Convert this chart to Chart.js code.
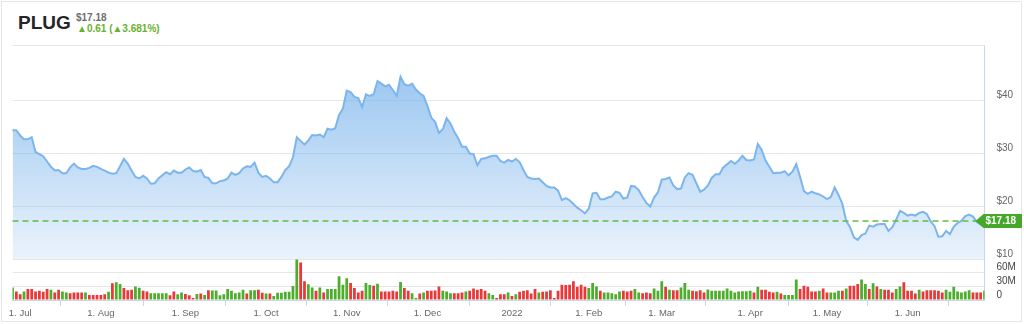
<!DOCTYPE html>
<html lang="en">
<head>
  <meta charset="UTF-8">
  <title>PLUG</title>
  <script src="https://cdn.jsdelivr.net/npm/chart.js"></script>
  <style>
    body {
      margin: 0;
      width: 1024px;
      height: 324px;
      background: #fff;
      font-family: "Liberation Sans", Arial, sans-serif;
      position: relative;
      overflow: hidden;
    }
    .frame {
      position: absolute;
      left: 1px;
      top: 1px;
      width: 1021px;
      height: 321px;
      border: 1px solid #e6e6e6;
      box-sizing: border-box;
    }
    .sym {
      position: absolute;
      left: 18px;
      top: 12.5px;
      font-size: 19px;
      line-height: 19px;
      font-weight: bold;
      color: #262626;
    }
    .last {
      position: absolute;
      left: 76px;
      top: 13px;
      font-size: 10px;
      line-height: 10px;
      font-weight: bold;
      color: #6e6e6e;
    }
    .chg {
      position: absolute;
      left: 77px;
      top: 23.5px;
      font-size: 10px;
      line-height: 10px;
      font-weight: bold;
      color: #68b22f;
    }
    canvas {
      position: absolute;
      left: 0;
      top: 0;
    }
  </style>
</head>
<body>
  <div class="frame"></div>
  <div class="sym">PLUG</div>
  <div class="last">$17.18</div>
  <div class="chg">▲0.61 (▲3.681%)</div>
  <canvas id="stock" width="1024" height="324"></canvas>

  <script>
    // month tick labels and trading days per month (Jul 2021 - Jun 2022)
    const monthLabels = ['1. Jul', '1. Aug', '1. Sep', '1. Oct', '1. Nov', '1. Dec', '2022', '1. Feb', '1. Mar', '1. Apr', '1. May', '1. Jun'];
    const tradingDays = [21, 22, 21, 21, 21, 22, 20, 19, 23, 20, 21, 21];
    const leadDays = 2; // last two sessions of June 2021

    // daily close, USD
    const closes = [
      34.3, 34.3, 33.3, 32.6, 32.6, 33.0, 30.2, 29.8, 29.4, 28.4,
      27.4, 26.7, 26.8, 26.2, 26.2, 27.3, 28.0, 27.3, 27.0, 27.0,
      27.2, 27.6, 27.4, 27.0, 26.7, 26.3, 26.1, 26.2, 27.5, 28.9,
      28.0, 26.7, 25.5, 25.2, 25.7, 25.2, 24.2, 24.3, 25.2, 25.8,
      26.4, 26.0, 26.7, 26.3, 26.3, 26.9, 27.3, 26.6, 26.5, 26.8,
      25.5, 25.3, 24.3, 24.3, 24.7, 24.8, 25.2, 26.3, 25.9, 26.2,
      27.1, 27.5, 27.4, 28.2, 26.3, 25.5, 25.7, 25.2, 24.5, 24.5,
      25.5, 26.8, 27.5, 29.2, 33.0, 32.3, 31.6, 32.4, 33.4, 33.3,
      33.5, 33.0, 34.6, 34.4, 34.7, 37.2, 38.4, 41.8, 41.5, 40.6,
      40.4, 38.7, 41.1, 40.8, 41.1, 43.6, 43.1, 42.6, 42.9, 41.9,
      40.8, 44.4, 43.0, 42.7, 43.1, 42.0, 41.3, 40.8, 38.9, 36.7,
      35.9, 33.8, 34.5, 36.6, 35.6, 34.0, 32.8, 31.2, 31.2, 29.9,
      29.8, 27.7, 28.9, 29.0, 29.3, 29.5, 29.5, 28.5, 28.2, 28.7,
      28.4, 28.9, 28.3, 26.8, 25.5, 25.2, 25.1, 25.2, 24.5, 23.8,
      23.5, 23.5, 22.9, 21.1, 21.5, 21.1, 20.4, 19.7, 19.2, 18.6,
      19.5, 22.4, 22.5, 21.3, 21.3, 21.6, 21.8, 22.7, 22.5, 21.4,
      21.6, 23.8, 23.7, 23.0, 21.7, 20.6, 19.9, 21.6, 22.6, 25.0,
      25.1, 25.4, 23.9, 23.2, 23.3, 25.4, 26.2, 25.9, 24.3, 22.7,
      23.1, 23.9, 25.3, 26.0, 26.0, 27.3, 27.9, 28.5, 28.0, 28.6,
      29.5, 28.7, 28.6, 28.8, 31.7, 30.6, 28.6, 27.4, 26.2, 26.3,
      26.3, 26.6, 25.8, 26.5, 27.9, 25.5, 22.8, 22.3, 22.7, 22.4,
      22.2, 21.8, 21.3, 21.7, 23.5, 22.1, 20.4, 17.2, 16.0, 14.1,
      13.6, 14.5, 14.8, 16.3, 16.1, 16.5, 16.6, 16.6, 15.3, 16.0,
      17.4, 19.1, 18.7, 18.2, 18.4, 18.2, 18.7, 18.9, 18.5, 17.1,
      16.2, 14.2, 14.3, 15.3, 14.7, 16.1, 16.8, 17.2, 18.1, 18.4,
      18.0, 17.0, 16.5, 17.18
    ];

    // daily volume, millions of shares
    const volumes = [
      27.6, 18.7, 12.7, 18.7, 23.9, 23.9, 18.7, 20.1, 17.9, 23.9,
      22.4, 16.4, 22.4, 18.7, 16.4, 14.9, 16.4, 16.4, 16.4, 16.4,
      11.2, 11.2, 11.2, 11.2, 12.7, 17.9, 36.6, 38.8, 35.1, 26.1,
      21.6, 22.4, 29.9, 26.9, 20.1, 18.7, 14.9, 14.9, 14.9, 14.9,
      14.9, 10.4, 18.7, 12.7, 16.4, 13.4, 10.4, 4.5, 13.4, 14.2,
      11.2, 21.6, 20.9, 20.9, 10.4, 12.7, 23.9, 20.1, 14.9, 16.4,
      22.4, 14.2, 21.6, 21.6, 22.4, 15.7, 14.2, 14.2, 9.0, 15.7,
      15.7, 17.9, 17.9, 30.6, 88.8, 82.1, 41.0, 34.3, 27.6, 20.1,
      27.6, 16.4, 23.9, 23.9, 23.9, 52.2, 33.6, 47.8, 37.3, 26.1,
      16.4, 20.1, 37.3, 32.8, 31.3, 35.8, 18.7, 18.7, 18.7, 20.1,
      18.7, 39.6, 26.1, 20.1, 14.9, 4.5, 14.2, 16.4, 20.1, 20.1,
      20.9, 29.9, 20.1, 18.7, 14.9, 14.9, 14.9, 16.4, 18.7, 20.1,
      25.4, 22.4, 23.9, 20.1, 14.9, 11.2, 4.5, 12.7, 12.7, 16.4,
      9.0, 12.7, 17.9, 20.1, 21.6, 14.2, 23.9, 16.4, 17.9, 18.7,
      21.6, 4.5, 20.1, 33.6, 32.8, 33.6, 41.0, 29.1, 33.6, 29.1,
      26.1, 37.3, 29.9, 20.1, 16.4, 16.4, 14.9, 12.7, 18.7, 20.1,
      18.7, 20.1, 23.9, 16.4, 14.9, 16.4, 14.9, 25.4, 20.1, 41.0,
      29.1, 22.4, 21.6, 21.6, 27.6, 37.3, 22.4, 20.1, 19.4, 21.6,
      16.4, 23.1, 20.1, 20.1, 20.1, 20.1, 25.4, 20.1, 16.4, 18.7,
      19.4, 19.4, 20.1, 16.4, 29.1, 22.4, 22.4, 17.9, 16.4, 17.9,
      14.2, 11.2, 11.2, 11.2, 44.8, 23.9, 31.3, 29.1, 18.7, 18.7,
      20.1, 25.4, 16.4, 16.4, 16.4, 20.1, 20.1, 25.4, 31.3, 31.3,
      35.1, 44.8, 35.1, 23.9, 36.6, 29.9, 23.9, 22.4, 22.4, 16.4,
      23.9, 29.9, 38.8, 20.1, 20.1, 14.2, 22.4, 18.7, 21.6, 21.6,
      21.6, 20.1, 16.4, 22.4, 17.9, 29.1, 18.7, 16.4, 18.7, 21.6,
      16.4, 16.4, 16.4, 20.1
    ];

    // G = up day, R = down day (volume bar colour)
    const upDown = (
      'GRRGRRRRRR' + 'GRRGGRRRRG' + 'RRRRRGRGGR' + 'RRGGRRGGGG' + 'GRRGGRRRGR' +
      'GRGGGGGGGG' + 'GRGGRRGRGG' + 'GGGGGRRGGR' + 'GRGGGGGGRR' + 'RRGGRGRRRR' +
      'RGRRGGRGRR' + 'RRGGGRRRGR' + 'RRRRGGRRRG' + 'RGRRRRRGRR' + 'RRRRRRRRRR' +
      'GGGRGGGGGR' + 'RRGGRRRGGG' + 'RGRRGGGRRR' + 'RGGGGGGGGG' + 'GGGRGRRRRG' +
      'RGGGGRRRRR' + 'GRRGGGRGRR' + 'RGGRGRGRRR' + 'GGRRRRGRRR' + 'RRRGGGGGGG' +
      'RRRG'
    ).split('');

    const priceTicks = [10, 20, 30, 40];
    const volumeTicks = [0, 30, 60];

    // one label per session; only the first session of each month is named
    const labels = [];
    for (let i = 0; i < leadDays; i++) labels.push('');
    monthLabels.forEach((name, m) => {
      for (let d = 0; d < tradingDays[m]; d++) labels.push(d === 0 ? name : '');
    });

    const GREEN = '#4cae2c';
    const RED = '#e8383a';
    const lastClose = closes[closes.length - 1];

    // dashed last-price line with the flag on the right axis
    const lastPricePlugin = {
      id: 'lastPrice',
      afterDatasetsDraw(chart) {
        const { ctx, chartArea } = chart;
        const y = Math.round(chart.scales.price.getPixelForValue(lastClose));
        ctx.save();
        ctx.strokeStyle = '#5cbf4a';
        ctx.lineWidth = 1.5;
        ctx.setLineDash([6, 4]);
        ctx.beginPath();
        ctx.moveTo(chartArea.left, y);
        ctx.lineTo(chartArea.right, y);
        ctx.stroke();
        ctx.setLineDash([]);

        const x0 = chartArea.right - 9;
        ctx.fillStyle = '#46a82a';
        ctx.beginPath();
        ctx.moveTo(x0, y);
        ctx.lineTo(x0 + 8, y - 7);
        ctx.lineTo(1022, y - 7);
        ctx.lineTo(1022, y + 7);
        ctx.lineTo(x0 + 8, y + 7);
        ctx.closePath();
        ctx.fill();

        ctx.fillStyle = '#fff';
        ctx.font = 'bold 10px "Liberation Sans", Arial, sans-serif';
        ctx.textBaseline = 'middle';
        ctx.textAlign = 'left';
        ctx.fillText('$' + lastClose.toFixed(2), chartArea.right + 1, y + 0.5);
        ctx.restore();
      }
    };

    // top border of the price pane
    const topLinePlugin = {
      id: 'topLine',
      beforeDatasetsDraw(chart) {
        const { ctx, chartArea } = chart;
        ctx.save();
        ctx.strokeStyle = '#e6e6e6';
        ctx.lineWidth = 1;
        ctx.beginPath();
        ctx.moveTo(chartArea.left, chartArea.top + 0.5);
        ctx.lineTo(chartArea.right, chartArea.top + 0.5);
        ctx.stroke();
        ctx.restore();
      }
    };

    Chart.defaults.font.family = '"Liberation Sans", Arial, sans-serif';

    const ctx = document.getElementById('stock').getContext('2d');
    new Chart(ctx, {
      type: 'line',
      data: {
        labels: labels,
        datasets: [
          {
            type: 'line',
            label: 'PLUG',
            data: closes,
            yAxisID: 'price',
            borderColor: '#7cb5ec',
            borderWidth: 2,
            pointRadius: 0,
            tension: 0,
            fill: 'start',
            backgroundColor: (context) => {
              const chart = context.chart;
              const scale = chart.scales.price;
              if (!chart.chartArea || !scale || !isFinite(scale.top) || !isFinite(scale.bottom)) {
                return 'rgba(124,181,236,0.4)';
              }
              const g = chart.ctx.createLinearGradient(0, scale.top, 0, scale.bottom);
              g.addColorStop(0, 'rgba(124,181,236,0.85)');
              g.addColorStop(1, 'rgba(124,181,236,0.16)');
              return g;
            }
          },
          {
            type: 'bar',
            label: 'Volume',
            data: volumes,
            yAxisID: 'vol',
            backgroundColor: upDown.map(c => c === 'G' ? GREEN : RED),
            barPercentage: 0.72,
            categoryPercentage: 1
          }
        ]
      },
      options: {
        responsive: false,
        animation: false,
        devicePixelRatio: 1,
        layout: { padding: { top: 45, left: 12.5, right: 0, bottom: 0 } },
        plugins: {
          legend: { display: false },
          tooltip: { enabled: false }
        },
        scales: {
          x: {
            type: 'category',
            offset: false,
            afterFit: (scale) => { scale.height = 24; },
            afterBuildTicks: (scale) => {
              scale.ticks = scale.ticks.filter(t => labels[t.value] !== '');
            },
            grid: {
              drawOnChartArea: false,
              drawTicks: true,
              tickLength: 6,
              color: '#ccd6eb'
            },
            border: { color: '#ccd6eb' },
            ticks: {
              autoSkip: false,
              maxRotation: 0,
              padding: 2,
              color: '#666',
              font: { size: 9.5 }
            }
          },
          price: {
            type: 'linear',
            position: 'right',
            stack: 'panes',
            stackWeight: 214,
            min: 10,
            max: 50.4,
            afterFit: (scale) => { scale.width = 39.5; },
            afterBuildTicks: (scale) => {
              scale.ticks = priceTicks.map(v => ({ value: v }));
            },
            grid: { color: '#e6e6e6', drawTicks: false },
            border: { color: '#ccd6eb' },
            ticks: {
              autoSkip: false,
              padding: 12,
              labelOffset: -5,
              color: '#666',
              font: { size: 10 },
              callback: (v) => '$' + v
            }
          },
          vol: {
            type: 'linear',
            position: 'right',
            stack: 'panes',
            stackWeight: 41,
            min: 0,
            max: 90,
            afterFit: (scale) => { scale.width = 39.5; },
            afterBuildTicks: (scale) => {
              scale.ticks = volumeTicks.concat([90]).map(v => ({ value: v }));
            },
            grid: { color: '#e6e6e6', drawTicks: false },
            border: { color: '#ccd6eb' },
            ticks: {
              autoSkip: false,
              padding: 12,
              labelOffset: -5,
              color: '#444',
              font: { size: 10 },
              callback: (v) => v === 90 ? '' : (v === 0 ? '0' : v + 'M')
            }
          }
        }
      },
      plugins: [topLinePlugin, lastPricePlugin]
    });
  </script>
</body>
</html>
